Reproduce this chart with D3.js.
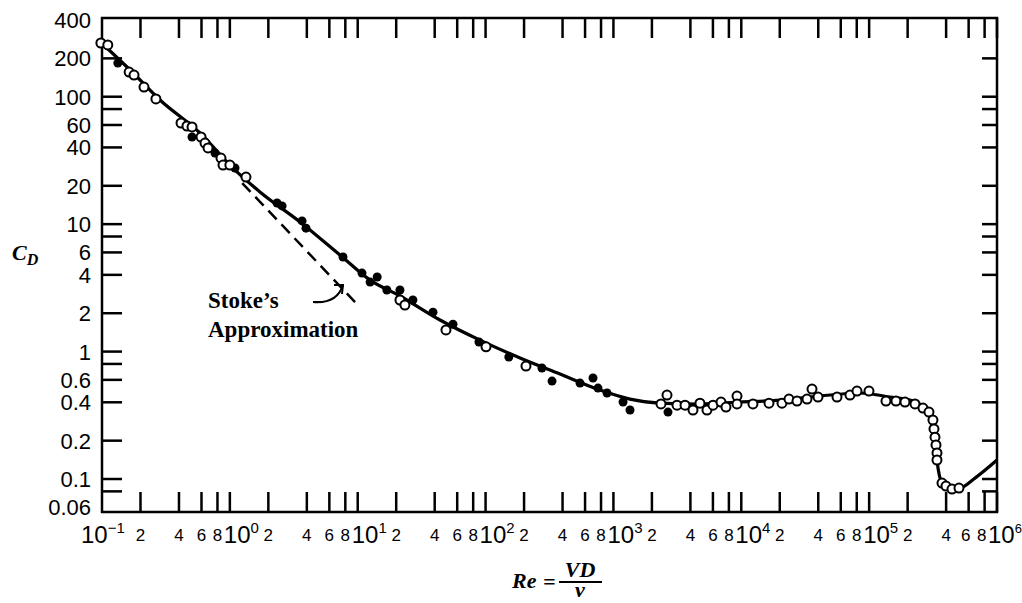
<!DOCTYPE html>
<html>
<head>
<meta charset="utf-8">
<script src="https://cdn.jsdelivr.net/npm/d3@7"></script>
<style>
	body { margin: 0; background: #fff; }
	.frame { fill: none; stroke: #000; stroke-width: 2.5px; }
	.tick { stroke: #000; stroke-width: 2.5px; }
	.ylab { font: 22px "Liberation Sans", Arial, sans-serif; fill: #000; }
	.xbig { font: 24px "Liberation Sans", Arial, sans-serif; fill: #000; }
	.xsmall { font: 17px "Liberation Sans", Arial, sans-serif; fill: #000; }
	.curve { fill: none; stroke: #000; stroke-width: 3.2px; }
	.stokes { fill: none; stroke: #000; stroke-width: 2.5px; stroke-dasharray: 12,7; }
	.open { fill: #fff; stroke: #000; stroke-width: 2px; }
	.filled { fill: #000; }
	.note { font: bold 23px "Liberation Serif", "Times New Roman", serif; fill: #000; }
	.title { font: bold italic 22px "Liberation Serif", "Times New Roman", serif; fill: #000; }
</style>
</head>
<body>
<svg width="1022" height="603"></svg>
<script>
// standard drag curve (solid line)
var curveRe = [0.1, 0.166, 0.284, 0.584, 1.0, 1.72, 3.54, 7.26, 12.5, 21.4, 44, 90.4, 186, 382, 785,
	1347, 2312, 4753, 9772, 20090, 41260, 84780, 145500, 208600, 273400, 310000, 327000, 339000,
	371300, 428600, 513000, 672500, 1000000];
var curveCd = [262, 162, 94.3, 51.9, 29.1, 17.9, 10.4, 5.73, 3.64, 2.73, 1.77, 1.23, 0.89, 0.666, 0.499,
	0.424, 0.394, 0.388, 0.402, 0.416, 0.448, 0.473, 0.44, 0.416, 0.36, 0.265, 0.202, 0.141,
	0.093, 0.0834, 0.0849, 0.1017, 0.141];

// Stokes approximation (dashed)
var stokesRe = [1.25, 9.7];
var stokesCd = [21, 2.4];

// open-circle measurements
var openRe = [0.098, 0.111, 0.163, 0.178, 0.213, 0.264, 0.415, 0.462, 0.506, 0.595, 0.639, 0.675, 0.852,
	0.884, 1.0, 1.337, 21.4, 23.4, 49, 100.8, 207, 2355, 2624, 3142, 3630, 4190, 4750, 5390, 6010,
	6940, 7590, 9260, 9260, 12340, 16470, 20810, 23610, 27270, 32650, 35730, 39810, 56050, 70800,
	80350, 99700, 135400, 162100, 190600, 228300, 263600, 293700, 315500, 321400, 327300, 333300,
	339300, 339300, 371300, 399000, 444600, 504200];
var openCd = [264, 255, 156, 148, 119, 96, 62.2, 58.9, 57.9, 48.3, 43.3, 39.6, 33.0,
	29.1, 29.1, 23.4, 2.54, 2.32, 1.48, 1.09, 0.77, 0.388, 0.456, 0.38, 0.38, 0.348, 0.394, 0.348, 0.38,
	0.402, 0.367, 0.448, 0.388, 0.388, 0.394, 0.394, 0.424, 0.409, 0.424, 0.508, 0.44, 0.44, 0.456,
	0.49, 0.49, 0.409, 0.409, 0.402, 0.388, 0.36, 0.335, 0.29, 0.247, 0.213, 0.185,
	0.16, 0.141, 0.093, 0.088, 0.0834, 0.0849];

// filled-dot measurements
var filledRe = [0.133, 0.506, 0.765, 1.097, 2.34, 2.56, 3.67, 3.94, 7.67, 10.8, 12.5, 14.2, 16.9, 21.4,
	27.0, 38.8, 55.6, 88.8, 152, 276, 331, 548, 692, 757, 891, 1189, 1348, 2672];
var filledCd = [184, 48.3, 36.2, 27.6, 14.65, 13.9, 10.6, 9.3, 5.52, 4.13, 3.51, 3.85, 3.04, 3.04,
	2.54, 2.04, 1.64, 1.19, 0.906, 0.743, 0.587, 0.566, 0.62, 0.517, 0.473, 0.402, 0.348, 0.335];

// axis ticks
var yTicks = [200, 100, 80, 60, 40, 20, 10, 8, 6, 4, 2, 1, 0.8, 0.6, 0.4, 0.2, 0.1, 0.08];
var yLabels = ["400", "200", "100", "60", "40", "20", "10", "6", "4", "2", "1", "0.6", "0.4", "0.2", "0.1", "0.06"];
var xDecades = [-1, 0, 1, 2, 3, 4, 5, 6];
var xMinor = [2, 4, 6, 8];

var svg = d3.select("svg");
var x = d3.scaleLog().domain([0.1, 1e6]).range([102, 997]);
var y = d3.scaleLog().domain([0.0551, 414.7]).range([512, 18]);

svg.append("rect").attr("width", 1022).attr("height", 603).attr("fill", "#fff");

// x tick positions (2,4,6,8 and every decade)
var xTicks = [];
xDecades.forEach(function(d) {
	if (d > -1) xTicks.push(Math.pow(10, d));
	if (d < 6) xMinor.forEach(function(m) { xTicks.push(m * Math.pow(10, d)); });
});

var g = svg.append("g");
// bottom + top ticks
g.selectAll(".xb").data(xTicks).enter().append("line").attr("class", "tick")
	.attr("x1", function(d) { return x(d); }).attr("x2", function(d) { return x(d); })
	.attr("y1", y.range()[0]).attr("y2", y.range()[0] - 20);
g.selectAll(".xt").data(xTicks).enter().append("line").attr("class", "tick")
	.attr("x1", function(d) { return x(d); }).attr("x2", function(d) { return x(d); })
	.attr("y1", y.range()[1]).attr("y2", y.range()[1] + 20);
// left + right ticks
g.selectAll(".yl").data(yTicks).enter().append("line").attr("class", "tick")
	.attr("x1", x.range()[0]).attr("x2", x.range()[0] + 20)
	.attr("y1", function(d) { return y(d); }).attr("y2", function(d) { return y(d); });
g.selectAll(".yr").data(yTicks).enter().append("line").attr("class", "tick")
	.attr("x1", x.range()[1]).attr("x2", x.range()[1] - 15)
	.attr("y1", function(d) { return y(d); }).attr("y2", function(d) { return y(d); });

svg.append("rect").attr("class", "frame")
	.attr("x", 102).attr("y", 18).attr("width", 895).attr("height", 494);

// y labels
svg.selectAll(".ylab").data(yLabels).enter().append("text").attr("class", "ylab")
	.attr("x", 91).attr("y", function(d) { return y(+d); }).attr("dy", "0.36em")
	.attr("text-anchor", "end").text(function(d) { return d; });

// x labels: decades
var dec = svg.selectAll(".xbig").data(xDecades).enter().append("text").attr("class", "xbig")
	.attr("x", function(d) { return x(Math.pow(10, d)) - (d == -1 ? 21 : d == 6 ? 9 : 6); })
	.attr("y", 543);
dec.append("tspan").text("10");
dec.append("tspan").attr("dy", -10)
	.attr("font-size", function(d) { return d == 6 ? "13px" : "15px"; })
	.text(function(d) { return d < 0 ? "\u2212" + (-d) : "" + d; });
// x labels: 2,4,6,8
var minorLabels = [];
xDecades.slice(0, -1).forEach(function(d) {
	xMinor.forEach(function(m) { minorLabels.push({v: m * Math.pow(10, d), m: m}); });
});
svg.selectAll(".xsmall").data(minorLabels).enter().append("text").attr("class", "xsmall")
	.attr("x", function(d) { return x(d.v) - (d.v > 5e5 ? 3 : 0); }).attr("y", 541)
	.attr("text-anchor", "middle").text(function(d) { return d.m; });

// axis titles
var cd = svg.append("text").attr("class", "title").attr("x", 12).attr("y", 260).attr("font-size", "25px");
cd.append("tspan").text("C");
cd.append("tspan").attr("font-size", "16px").attr("dy", 5).text("D");

svg.append("text").attr("class", "title").attr("x", 512).attr("y", 588).attr("font-size", "24px").text("Re");
svg.append("text").attr("class", "title").attr("x", 543).attr("y", 589).attr("font-style", "normal").text("=");
svg.append("text").attr("class", "title").attr("x", 580).attr("y", 577).attr("font-size", "21px")
	.attr("text-anchor", "middle").text("VD");
svg.append("line").attr("x1", 559).attr("x2", 602).attr("y1", 582).attr("y2", 582)
	.attr("stroke", "#000").attr("stroke-width", 1.8);
svg.append("text").attr("class", "title").attr("x", 580).attr("y", 597).attr("font-size", "18px")
	.attr("text-anchor", "middle").text("\u03bd");

// Stokes line
var line = d3.line().x(function(d) { return x(d[0]); }).y(function(d) { return y(d[1]); });
svg.append("path").attr("class", "stokes").attr("d", line(d3.zip(stokesRe, stokesCd)));

// drag curve
svg.append("path").attr("class", "curve")
	.attr("d", line.curve(d3.curveMonotoneX)(d3.zip(curveRe, curveCd)));

// points
svg.selectAll(".filled").data(d3.zip(filledRe, filledCd)).enter().append("circle")
	.attr("class", "filled").attr("r", 4.5)
	.attr("cx", function(d) { return x(d[0]); }).attr("cy", function(d) { return y(d[1]); });
svg.selectAll(".open").data(d3.zip(openRe, openCd)).enter().append("circle")
	.attr("class", "open").attr("r", 4.5)
	.attr("cx", function(d) { return x(d[0]); }).attr("cy", function(d) { return y(d[1]); });

// annotation
svg.append("text").attr("class", "note").attr("x", 208).attr("y", 308).text("Stoke\u2019s");
svg.append("text").attr("class", "note").attr("x", 208).attr("y", 337).text("Approximation");
var tail = [x(4.47), y(2.45)], head = [x(7.67), y(3.33)];
svg.append("path").attr("fill", "none").attr("stroke", "#000").attr("stroke-width", 2.2)
	.attr("d", "M" + tail + "Q" + [head[0] - 6, tail[1] + 2] + " " + head);
svg.append("path").attr("fill", "none").attr("stroke", "#000").attr("stroke-width", 2)
	.attr("d", "M" + [head[0] - 9, head[1]] + "L" + head + "L" + [head[0] - 1, head[1] + 9]);
</script>
</body>
</html>
